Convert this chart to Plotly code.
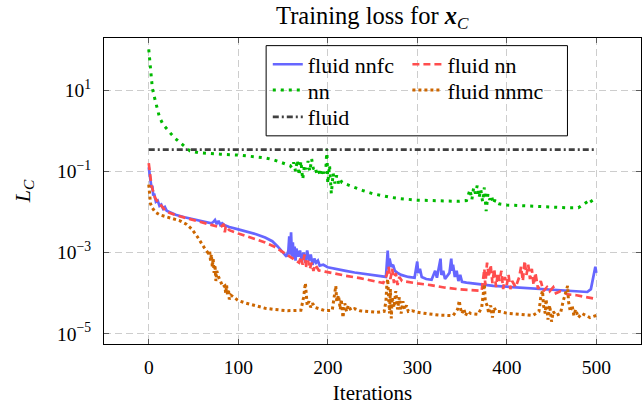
import numpy as np
import plotly.graph_objects as go

# ---------------- data (y stored as log10 of L_C) ----------------
fluid_x = [0, 500]
fluid_log10 = [-0.466, -0.466]

nn_x = [0, 2, 4, 6, 9, 12, 16, 20, 25, 30, 35, 40, 46, 55, 65, 80, 100, 115, 130, 140, 150, 158,
        160, 162, 164, 166, 168, 170, 172, 174, 176, 178, 180, 182, 184, 186, 188, 190, 192, 194, 196, 198,
        199, 200, 202, 204, 206, 208, 210, 212, 214, 216, 222, 230, 240, 250, 260, 270, 280, 290, 300,
        315, 330, 345, 355, 357, 359, 361, 363, 365, 367, 369, 371, 373, 375, 377, 379, 381, 383, 385,
        387, 389, 391, 400, 410, 420, 430, 440, 450, 460, 470, 480, 490, 493, 496, 500]
nn_log10 = [2.0, 1.4, 1.05, 0.85, 0.55, 0.33, 0.15, 0.04, -0.08, -0.2, -0.3, -0.4, -0.5, -0.54, -0.56,
            -0.58, -0.6, -0.63, -0.67, -0.72, -0.8, -0.86,
            -0.92, -0.78, -1.0, -0.72, -1.1, -0.75, -1.2, -0.85, -0.95, -0.75, -1.0, -0.7, -0.95, -0.9,
            -1.08, -1.0, -1.12, -0.95, -1.05, -0.9,
            -0.45, -1.3, -0.85, -1.55, -1.05, -1.3, -1.1, -1.3, -1.2, -1.28, -1.33, -1.4, -1.48, -1.55,
            -1.6, -1.64, -1.67, -1.69, -1.71,
            -1.72, -1.73, -1.74, -1.72, -1.6, -1.45, -1.7, -1.4, -1.55, -1.35, -1.65, -1.45, -1.75, -1.4,
            -1.98, -1.55, -1.7, -1.6, -1.8,
            -1.7, -1.78, -1.8, -1.83, -1.84, -1.86, -1.87, -1.88, -1.89, -1.9, -1.9, -1.9, -1.75, -1.68,
            -1.78, -1.8]

nnfc_x = [0, 1, 2, 3, 4, 5, 6, 8, 10, 12, 14, 16, 18, 20, 23, 30, 40, 50, 60, 70, 72, 74, 76, 78, 80,
          82, 85, 90, 100, 110, 120, 130, 138, 144, 150, 154, 156, 157, 158, 159, 160, 161, 162, 163,
          164, 165, 167, 169, 171, 173, 175, 177, 179, 181, 183, 185, 187, 189, 191, 195, 200, 210,
          220, 230, 240, 250, 260, 265, 267, 268, 269, 271, 273, 275, 278, 282, 290, 297, 299, 300,
          301, 303, 305, 310, 316, 318, 320, 322, 325, 326, 327, 329, 331, 336, 338, 339, 340, 342,
          344, 346, 348, 350, 355, 365, 375, 385, 400, 420, 440, 460, 480, 490, 494, 497, 499, 500]
nnfc_log10 = [-0.9, -1.05, -1.3, -1.4, -1.35, -1.6, -1.55, -1.75, -1.72, -1.85, -1.82, -1.92, -1.88,
              -1.97, -2.0, -2.07, -2.13, -2.18, -2.23, -2.28, -2.25, -2.2, -2.3, -2.22, -2.32,
              -2.28, -2.33, -2.37, -2.43, -2.49, -2.55, -2.63, -2.72, -2.85, -3.0, -3.1, -2.95, -2.6,
              -3.05, -2.5, -3.1, -2.75, -3.15, -2.85,
              -3.2, -2.9, -3.1, -2.95, -3.2, -3.0, -3.25, -2.95, -3.2, -3.05, -3.3, -3.15, -3.25, -3.2,
              -3.32, -3.3, -3.36, -3.41,
              -3.45, -3.49, -3.52, -3.55, -3.58, -3.6, -2.95, -3.4, -3.15, -3.35, -3.3, -3.45, -3.5,
              -3.55, -3.6, -3.62, -3.35, -3.22,
              -3.5, -3.4, -3.6, -3.65, -3.67, -3.55, -3.45, -3.62, -3.3, -3.15, -3.55, -3.45, -3.65,
              -3.5, -3.15, -3.45, -3.3, -3.6,
              -3.45, -3.7, -3.55, -3.72, -3.74, -3.77, -3.8, -3.82, -3.84, -3.87, -3.9, -3.93, -3.96,
              -3.97, -3.9, -3.6, -3.35, -3.5]

fnn_x = [0, 1, 2, 3, 5, 7, 10, 14, 18, 23, 30, 40, 50, 60, 70, 80, 84, 85, 86, 90, 100, 110, 120, 130,
         140, 150, 160, 168, 170, 172, 174, 176, 178, 180, 182, 184, 186, 190, 197, 210, 220, 236, 245,
         255, 262, 266, 268, 270, 272, 274, 276, 278, 280, 283, 290, 300, 315, 330, 345, 360, 372, 375,
         376, 378, 380, 382, 384, 386, 388, 390, 392, 394, 396, 398, 400, 402, 404, 406, 410, 414, 416,
         418, 420, 422, 424, 426, 428, 430, 432, 435, 438, 441, 445, 448, 452, 455, 460, 468, 478, 487,
         500]
fnn_log10 = [-0.8, -1.0, -1.25, -1.35, -1.5, -1.65, -1.75, -1.85, -1.95, -2.02, -2.08, -2.14, -2.2,
             -2.26, -2.32, -2.38, -2.3, -2.5, -2.35, -2.45, -2.53, -2.6, -2.67, -2.75,
             -2.85, -3.0, -3.15, -3.25, -3.1, -3.3, -3.05, -3.35, -3.2, -3.4, -3.25, -3.45, -3.3, -3.44,
             -3.47, -3.53, -3.57, -3.63, -3.67,
             -3.72, -3.75, -3.55, -3.35, -3.65, -3.4, -3.75, -3.5, -3.8, -3.6, -3.7, -3.73, -3.76, -3.8,
             -3.86, -3.9, -3.93, -3.94, -3.4,
             -3.8, -3.25, -3.6, -3.3, -3.75, -3.4, -3.85, -3.5, -3.7, -3.45, -3.9, -3.6, -3.8, -3.55,
             -3.9, -3.7, -3.85, -3.6, -3.35,
             -3.7, -3.2, -3.55, -3.3, -3.65, -3.4, -3.8, -3.5, -3.9, -3.7, -3.95, -3.85, -3.95, -3.85,
             -4.0, -3.95, -4.03, -4.05, -4.09,
             -4.14]

nnmc_x = [0, 1, 2, 4, 7, 12, 18, 25, 35, 42, 48, 54, 58, 62, 66, 68, 69, 70, 71, 72, 73, 74, 75, 76, 78,
          80, 83, 85, 86, 87, 88, 89, 90, 92, 96, 100, 108, 120, 130, 140, 155, 170, 173, 175, 176, 177,
          179, 181, 183, 186, 190, 197, 205, 207, 209, 210, 212, 214, 215, 217, 219, 221, 223, 226, 230,
          236, 245, 255, 263, 265, 266, 267, 268, 269, 270, 271, 272, 274, 276, 278, 280, 282, 284, 286,
          288, 290, 294, 300, 313, 325, 340, 345, 347, 348, 350, 352, 354, 356, 360, 368, 372, 374, 375,
          376, 378, 380, 382, 384, 386, 388, 392, 400, 415, 429, 436, 438, 440, 441, 443, 444, 446, 448,
          450, 452, 455, 460, 463, 466, 468, 469, 471, 473, 475, 477, 480, 484, 488, 493, 497, 500]
nnmc_log10 = [-1.33, -1.6, -1.8, -1.9, -2.0, -2.07, -2.11, -2.15, -2.22, -2.3, -2.42, -2.6, -2.75,
              -2.88, -3.0, -2.95, -3.2, -3.05, -3.35, -3.15, -3.5, -3.3, -3.7, -3.45, -3.6,
              -3.7, -3.85, -3.82, -4.0, -3.8, -4.05, -3.9, -4.15, -4.05, -4.12, -4.18, -4.24, -4.32, -4.37,
              -4.4, -4.43, -4.42, -4.1, -3.75, -4.05, -4.3,
              -4.2, -4.35, -4.25, -4.35, -4.38, -4.43, -4.42, -4.1, -3.82, -4.2, -4.05, -4.4, -4.15, -4.6,
              -4.25, -4.45, -4.3, -4.42, -4.38,
              -4.43, -4.45, -4.47, -4.45, -4.2, -3.8, -3.65, -4.1, -4.5, -3.9, -4.62, -4.1, -4.35, -3.95,
              -4.4, -4.1, -4.5, -4.2, -4.4,
              -4.3, -4.45, -4.43, -4.47, -4.51, -4.54, -4.55, -4.4, -4.18, -4.35, -4.5, -4.38, -4.55,
              -4.45, -4.5, -4.52, -4.35, -3.95, -3.78,
              -4.2, -4.3, -4.5, -4.3, -4.6, -4.35, -4.45, -4.45, -4.49, -4.53, -4.55, -4.45, -4.1, -3.94,
              -4.3, -4.5, -4.15, -4.65, -4.3,
              -4.7, -4.45, -4.55, -4.5, -4.2, -3.95, -3.82, -4.2, -4.45, -4.3, -4.55, -4.4, -4.6, -4.5,
              -4.55, -4.6, -4.57, -4.55]

y_tick_exponents = [1, -1, -3, -5]
x_tick_values = [0, 100, 200, 300, 400, 500]

# ---------------- figure ----------------
FONT = "Liberation Serif, Times New Roman, serif"
fig = go.Figure()

def add(x, ylog, name, color, width, dash, legend):
    fig.add_trace(go.Scatter(
        x=x, y=10 ** np.array(ylog, dtype=float), mode="lines", name=name, showlegend=True,
        line=dict(color=color, width=width, dash=dash), legend=legend))

# drawing order as in the reference (later on top)
add(nnfc_x, nnfc_log10, "fluid nnfc", "rgb(102,102,255)", 2.7, "solid", "legend")
add(fnn_x, fnn_log10, "fluid nn", "rgb(255,77,77)", 2.7, "7px,4px", "legend2")
add(nn_x, nn_log10, "nn", "rgb(0,185,0)", 3, "3px,5px", "legend3")
add(nnmc_x, nnmc_log10, "fluid nnmc", "rgb(204,102,0)", 3, "3px,3px", "legend4")
add(fluid_x, fluid_log10, "fluid", "rgb(64,64,64)", 2.7, "6px,3px,2px,3px", "legend5")

axis_common = dict(showline=True, linecolor="black", linewidth=1, mirror="allticks",
                   ticks="inside", ticklen=5, tickcolor="rgb(90,90,90)",
                   showgrid=True, gridcolor="rgb(205,205,205)", gridwidth=1, griddash="7px,4px",
                   zeroline=False, tickfont=dict(family=FONT, size=19.5, color="black"))

fig.update_xaxes(range=[-50, 550], tickvals=x_tick_values, ticklabelstandoff=6,
                 title=dict(text="Iterations", font=dict(family=FONT, size=21, color="black"),
                            standoff=10),
                 **axis_common)
fig.update_yaxes(type="log", range=[-5.25, 2.28],
                 tickvals=[10.0 ** e for e in y_tick_exponents],
                 ticktext=["10<sup>%s</sup>" % (str(e).replace("-", "−")) for e in y_tick_exponents],
                 ticklabelstandoff=8,
                 title=dict(text="<i>L</i><sub><i>C</i></sub>", font=dict(family=FONT, size=22, color="black"),
                            standoff=20),
                 **axis_common)

leg_common = dict(bgcolor="rgba(0,0,0,0)", borderwidth=0, font=dict(family=FONT, size=22, color="black"),
                  orientation="v", yanchor="middle", xanchor="left", tracegroupgap=0, visible=True)
col1, col2 = 0.305, 0.565
row1, row2, row3 = (347 - 65) / 308.7, (347 - 91) / 308.7, (347 - 118) / 308.7
fig.update_layout(
    width=644, height=405, showlegend=True,
    margin=dict(l=103.5, r=2.3, t=38.3, b=58),
    paper_bgcolor="white", plot_bgcolor="white",
    title=dict(text="Training loss for <b><i>x</i></b><sub><i>C</i></sub>", x=0.578, xanchor="center",
               y=0.962, yanchor="middle", font=dict(family=FONT, size=24.5, color="black")),
    legend=dict(x=col1, y=row1, **leg_common),
    legend2=dict(x=col2, y=row1, **leg_common),
    legend3=dict(x=col1, y=row2, **leg_common),
    legend4=dict(x=col2, y=row2, **leg_common),
    legend5=dict(x=col1, y=row3, **leg_common),
    shapes=[dict(type="rect", xref="paper", yref="paper",
                 x0=(266 - 103.5) / 538.2, x1=(568 - 103.5) / 538.2,
                 y0=(347 - 137) / 308.7, y1=(347 - 46) / 308.7,
                 line=dict(color="black", width=1), fillcolor="rgba(0,0,0,0)", layer="above")],
)

fig.write_html("out.html", config={"displayModeBar": False},
               post_script="document.body.style.margin='0px';")
